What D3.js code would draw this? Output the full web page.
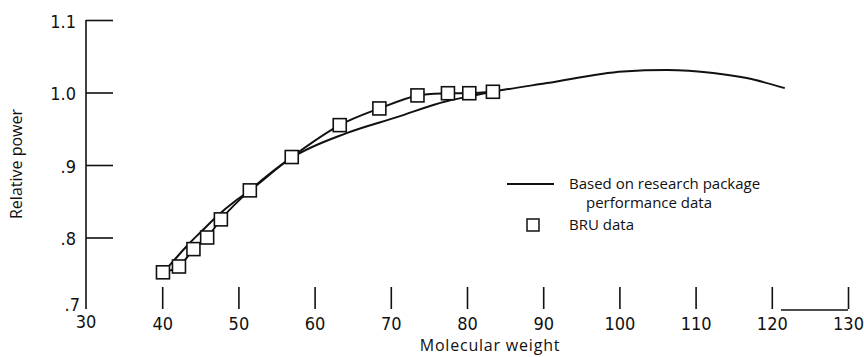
<!DOCTYPE html>
<html>
<head>
<meta charset="utf-8">
<script src="https://cdn.jsdelivr.net/npm/d3@7/dist/d3.min.js"></script>
<style>
  html, body { margin: 0; padding: 0; background: #fff; }
  svg { display: block; }
  .tick text { font-family: "Liberation Sans Narrow", "DejaVu Sans Condensed", "Liberation Sans", sans-serif; font-size: 18px; fill: #111; }
  .lbl { font-family: "Open Sans", "Noto Sans", sans-serif; font-size: 15px; fill: #111; }
</style>
</head>
<body>
<script>
// ---- data ----
const xTicks = [40, 50, 60, 70, 80, 90, 100, 110, 120, 130];
const yTicks = [1.1, 1.0, 0.9, 0.8];
const yTickLabels = ["1.1", "1.0", ".9", ".8"];

// Based on research package performance data (curve)
const researchX = [40, 41.25, 43.2, 45.4, 47.15, 49.8, 51.4, 57.0, 64.2, 70.8, 77.3, 80.0, 83.4, 90.5, 100.5, 106.2, 112.3, 116.7, 121.7];
const researchY = [0.751, 0.765, 0.788, 0.811, 0.829, 0.852, 0.864, 0.910, 0.944, 0.966, 0.988, 0.994, 1.001, 1.013, 1.029, 1.031, 1.027, 1.020, 1.006];

// BRU data (squares)
const bruX = [40.1, 42.2, 44.1, 45.9, 47.7, 51.5, 57.0, 63.3, 68.5, 73.5, 77.5, 80.3, 83.4];
const bruY = [0.752, 0.760, 0.784, 0.800, 0.825, 0.865, 0.911, 0.955, 0.978, 0.996, 0.999, 0.999, 1.001];

const W = 864, H = 357;
const svg = d3.select("body").append("svg").attr("width", W).attr("height", H);

const x = d3.scaleLinear().domain([30, 130]).range([86, 848]);
const y = d3.scaleLinear().domain([0.7, 1.1]).range([310, 20]);

const ink = "#111";

// Y axis: vertical line + ticks to the right
svg.append("line").attr("x1", x(30)).attr("x2", x(30)).attr("y1", y(1.1)).attr("y2", y(0.7) - 1)
  .attr("stroke", ink).attr("stroke-width", 1.6);

const yAxis = d3.axisRight(y).tickValues(yTicks).tickSize(27).tickFormat(() => "");
const gy = svg.append("g").attr("transform", `translate(${x(30)},0)`).call(yAxis);
gy.select(".domain").remove();
gy.selectAll(".tick line").attr("stroke", ink).attr("stroke-width", 1.6);

// Y tick labels (left of axis)
const yl = d3.axisLeft(y).tickValues(yTicks).tickSize(0).tickPadding(10)
  .tickFormat((d, i) => yTickLabels[i]);
const gyl = svg.append("g").attr("transform", `translate(${x(30)},0)`).call(yl);
gyl.select(".domain").remove();
gyl.selectAll(".tick text").attr("dy", "0.4em");

// .7 label and 30 label at origin
svg.append("g").attr("class", "tick").append("text")
  .attr("x", 80).attr("y", 311).attr("text-anchor", "end").text(".7");
svg.append("g").attr("class", "tick").append("text")
  .attr("x", x(30)).attr("y", 328).attr("text-anchor", "middle").text("30");

// X axis ticks (vertical marks above labels)
const xAxis = d3.axisBottom(x).tickValues(xTicks).tickSize(22).tickPadding(9).tickFormat(d3.format("d"));
const gx = svg.append("g").attr("transform", `translate(0,287)`).call(xAxis);
gx.select(".domain").remove();
gx.selectAll(".tick line").attr("stroke", ink).attr("stroke-width", 1.6);
gx.selectAll(".tick text").attr("y", 37).attr("dy", "0.35em");

// Baseline segment 120-130
svg.append("line").attr("x1", x(121.2)).attr("x2", x(130)).attr("y1", 310).attr("y2", 310)
  .attr("stroke", ink).attr("stroke-width", 1.4);

// Research curve
const researchData = researchX.map((v, i) => [v, researchY[i]]);
svg.append("path").datum(researchData)
  .attr("fill", "none").attr("stroke", ink).attr("stroke-width", 2)
  .attr("d", d3.line().x(d => x(d[0])).y(d => y(d[1])).curve(d3.curveMonotoneX));

// BRU curve through squares
const bruData = bruX.map((v, i) => [v, bruY[i]]);
svg.append("path").datum(bruData)
  .attr("fill", "none").attr("stroke", ink).attr("stroke-width", 2)
  .attr("d", d3.line().x(d => x(d[0])).y(d => y(d[1])).curve(d3.curveCatmullRom.alpha(0.5)));

// Squares
const s = 13;
svg.append("g").selectAll("rect").data(bruData).join("rect")
  .attr("x", d => x(d[0]) - s / 2).attr("y", d => y(d[1]) - s / 2)
  .attr("width", s).attr("height", s)
  .attr("fill", "#fff").attr("stroke", ink).attr("stroke-width", 1.6);

// Axis titles
svg.append("text").attr("class", "lbl").style("font-size", "16px")
  .attr("transform", "translate(22,164) rotate(-90)")
  .attr("text-anchor", "middle").text("Relative power");
svg.append("text").attr("class", "lbl").style("font-size", "16px").style("letter-spacing", "0.8px")
  .attr("x", 490).attr("y", 351).attr("text-anchor", "middle")
  .text("Molecular weight");

// Legend
const lg = svg.append("g");
lg.append("line").attr("x1", 507).attr("x2", 554).attr("y1", 184).attr("y2", 184)
  .attr("stroke", ink).attr("stroke-width", 2);
lg.append("text").attr("class", "lbl").attr("x", 569).attr("y", 189).text("Based on research package");
lg.append("text").attr("class", "lbl").attr("x", 586).attr("y", 208).text("performance data");
lg.append("rect").attr("x", 527).attr("y", 219).attr("width", 12).attr("height", 12)
  .attr("fill", "#fff").attr("stroke", ink).attr("stroke-width", 1.5);
lg.append("text").attr("class", "lbl").attr("x", 569).attr("y", 230).text("BRU data");
</script>
</body>
</html>
